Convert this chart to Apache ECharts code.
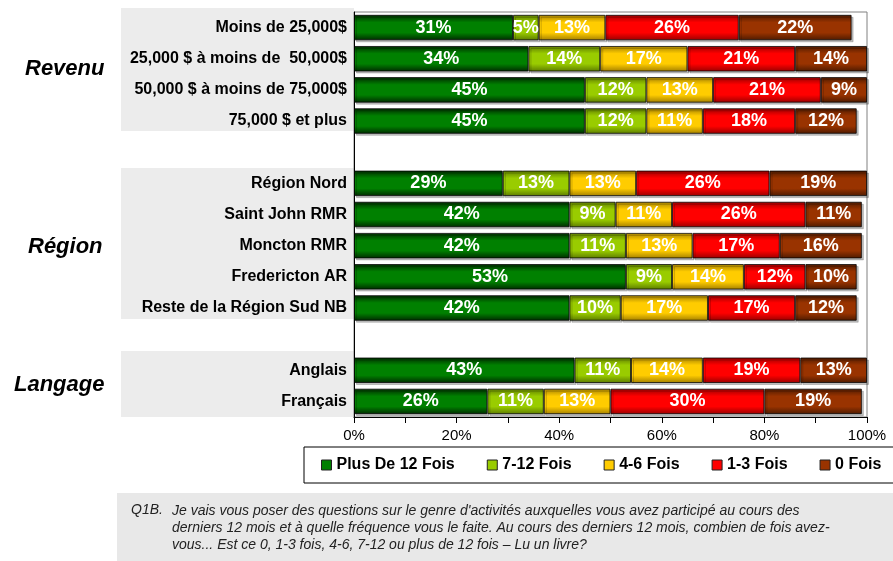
<!DOCTYPE html>
<html>
<head>
<meta charset="utf-8">
<script src="https://cdn.jsdelivr.net/npm/echarts@6/dist/echarts.min.js"></script>
<style>
  html, body { margin: 0; padding: 0; background: #fff; }
  #main { width: 893px; height: 561px; }
</style>
</head>
<body>
<div id="main"></div>
<script>
// categories (blank ones are the gaps between groups)
const categories = ['Moins de 25,000$', '25,000 $ à moins de  50,000$', '50,000 $ à moins de 75,000$', '75,000 $ et plus', '',
  'Région Nord', 'Saint John RMR', 'Moncton RMR', 'Fredericton AR', 'Reste de la Région Sud NB', ' ',
  'Anglais', 'Français'];
const seriesNames = ['Plus De 12 Fois', '7-12 Fois', '4-6 Fois', '1-3 Fois', '0 Fois'];
const plus12 = [31, 34, 45, 45, null, 29, 42, 42, 53, 42, null, 43, 26];
const fois712 = [5, 14, 12, 12, null, 13, 9, 11, 9, 10, null, 11, 11];
const fois46 = [13, 17, 13, 11, null, 13, 11, 13, 14, 17, null, 14, 13];
const fois13 = [26, 21, 21, 18, null, 26, 26, 17, 12, 17, null, 19, 30];
const fois0 = [22, 14, 9, 12, null, 19, 11, 16, 10, 12, null, 13, 19];
const xTicks = [0, 20, 40, 60, 80, 100];
const groups = ['Revenu', 'Région', 'Langage'];
const question = [
  'Je vais vous poser des questions sur le genre d\'activités auxquelles vous avez participé au cours des',
  'derniers 12 mois et à quelle fréquence vous le faite. Au cours des derniers 12 mois, combien de fois avez-',
  'vous... Est ce 0, 1-3 fois, 4-6, 7-12 ou plus de 12 fois – Lu un livre?'
];

const colors = [
  { base: '#008000', edge: '#002a00' },
  { base: '#99cc00', edge: '#5c7a00' },
  { base: '#ffcc00', edge: '#a37f00' },
  { base: '#ff0000', edge: '#990000' },
  { base: '#993300', edge: '#4d1a00' }
];
const allData = [plus12, fois712, fois46, fois13, fois0];

function grad(c) {
  return new echarts.graphic.LinearGradient(0, 0, 0, 1, [
    { offset: 0, color: c.edge },
    { offset: 0.3, color: c.base },
    { offset: 0.7, color: c.base },
    { offset: 1, color: c.edge }
  ]);
}

const chart = echarts.init(document.getElementById('main'));
const font = 'Arial, "Liberation Sans", sans-serif';

const series = seriesNames.map((name, i) => ({
  name: name,
  type: 'bar',
  stack: 'total',
  barWidth: '82%',
  data: allData[i],
  itemStyle: {
    color: grad(colors[i]),
    borderColor: 'rgba(0,0,0,0.75)',
    borderWidth: 1,
    shadowColor: 'rgba(0,0,0,0.25)',
    shadowOffsetX: 2,
    shadowOffsetY: 2
  },
  label: {
    show: true,
    position: 'inside',
    formatter: '{c}%',
    color: '#fff',
    fontFamily: font,
    fontWeight: 'bold',
    fontSize: 18
  }
}));

chart.setOption({
  animation: false,
  textStyle: { fontFamily: font },
  grid: {
    left: 354, right: 26, top: 12, bottom: 144,
    show: true, borderColor: '#808080', borderWidth: 1
  },
  legend: {
    left: 304, top: 447, width: 620,
    padding: [10, 40, 10, 17],
    borderColor: '#000', borderWidth: 1,
    itemWidth: 10, itemHeight: 10, itemGap: 32,
    icon: 'rect',
    textStyle: { fontFamily: font, fontWeight: 'bold', fontSize: 16, color: '#000' },
    data: seriesNames.map((n, i) => ({
      name: n,
      itemStyle: { color: colors[i].base, borderColor: '#222', borderWidth: 1 }
    }))
  },
  xAxis: {
    type: 'value', min: 0, max: 100, interval: 20,
    axisLine: { show: true, lineStyle: { color: '#000' } },
    axisTick: { show: true, length: 6, lineStyle: { color: '#000' } },
    minorTick: { show: true, splitNumber: 2, length: 6, lineStyle: { color: '#000' } },
    splitLine: { show: false },
    axisLabel: {
      margin: 11, color: '#000', fontSize: 15, fontFamily: font,
      formatter: v => (xTicks.indexOf(v) >= 0 ? v + '%' : '')
    }
  },
  yAxis: {
    type: 'category', inverse: true, data: categories,
    axisLine: { show: true, lineStyle: { color: '#000' } },
    axisTick: { show: false },
    axisLabel: { margin: 7, color: '#000', fontSize: 16, fontWeight: 'bold', fontFamily: font }
  },
  graphic: [
    { type: 'rect', z: -10, shape: { x: 121, y: 8, width: 233, height: 123 }, style: { fill: '#ececec' } },
    { type: 'rect', z: -10, shape: { x: 121, y: 168, width: 233, height: 151 }, style: { fill: '#ececec' } },
    { type: 'rect', z: -10, shape: { x: 121, y: 351, width: 233, height: 66 }, style: { fill: '#ececec' } },
    { type: 'text', left: 25, top: 58, style: { text: groups[0], font: 'italic bold 22px ' + font, fill: '#000' } },
    { type: 'text', left: 28, top: 236, style: { text: groups[1], font: 'italic bold 22px ' + font, fill: '#000' } },
    { type: 'text', left: 14, top: 374, style: { text: groups[2], font: 'italic bold 22px ' + font, fill: '#000' } },
    { type: 'rect', z: -10, shape: { x: 117, y: 493, width: 776, height: 68 }, style: { fill: '#e8e8e8' } },
    { type: 'text', left: 131, top: 503, style: { text: 'Q1B.', font: 'italic 14px ' + font, fill: '#222' } },
    { type: 'text', left: 172, top: 503, style: { text: question.join('\n'), font: 'italic 14px ' + font, lineHeight: 17, fill: '#222' } }
  ],
  series: series
});
</script>
</body>
</html>
